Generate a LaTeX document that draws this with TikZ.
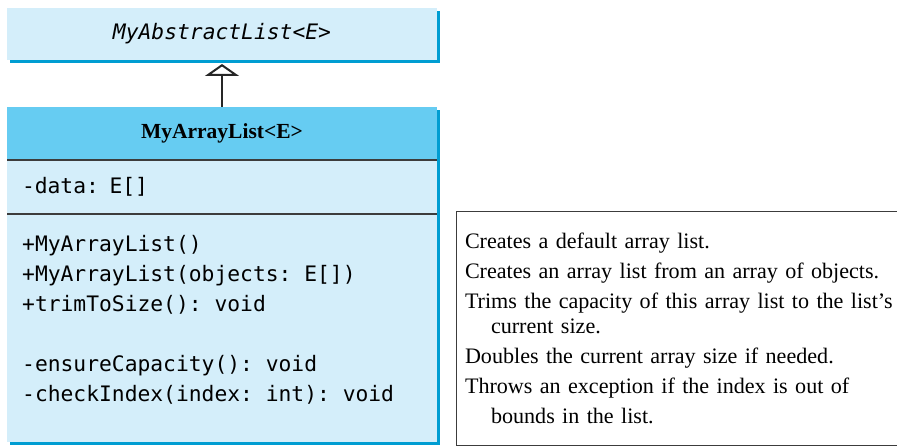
\documentclass[tikz,border=0pt]{standalone}
\usepackage{fontspec}
\setmainfont{Liberation Serif}
\setmonofont{DejaVu Sans Mono}
\usetikzlibrary{positioning,arrows.meta,shadows}
\definecolor{umlfill}{HTML}{D4EEFA}
\definecolor{umlhead}{HTML}{66CCF2}
\definecolor{umlshade}{HTML}{009DD2}
\definecolor{rulegray}{HTML}{3C3C3C}
\newcommand{\umlmono}{\fontsize{21.3}{30}\selectfont\ttfamily}

\begin{document}
\begin{tikzpicture}[x=1pt,y=-1pt,
  umlbox/.style={fill=umlfill,outer sep=0pt,inner xsep=15pt,text width=400pt,align=left,font=\umlmono,
    general shadow={fill=umlshade,shadow xshift=3pt,shadow yshift=-3pt}},
  desc/.style={draw=rulegray,line width=1pt,outer sep=0pt,inner xsep=9pt,text width=450pt,minimum height=233pt,
    align=left,font=\fontsize{22.1}{30}\selectfont},
  sep/.style={rulegray,line width=1.4pt},
  inherit/.style={-{Triangle[open,length=12pt,width=34pt]},line width=2pt,black!85}]
\useasboundingbox (0,0) rectangle (897,446);
% parent class
\node[umlbox,minimum height=52pt,align=center,font=\umlmono\itshape] (abs) at (222,34) {MyAbstractList<E>};
% MyArrayList: name, data, operations
\node[umlbox,fill=umlhead,minimum height=53pt,align=center,font=\fontsize{21.5}{26}\selectfont\bfseries] (arr) at (222,133.5) {MyArrayList<E>};
\node[umlbox,minimum height=54pt,below=0pt of arr] (data) {-data: E[]};
\node[umlbox,minimum height=228pt,below=0pt of data] (ops) {};
\node[anchor=north west,inner sep=0pt,align=left,font=\umlmono] (opsl) at ([xshift=15pt,yshift=-21.5pt]ops.north west)
  {+MyArrayList()\\+MyArrayList(objects: E[])\\+trimToSize(): void\\[30pt]-ensureCapacity(): void\\-checkIndex(index: int): void};
\draw[sep] (arr.south west) -- (arr.south east);
\draw[sep] (data.south west) -- (data.south east);
\draw[inherit,shorten >=4pt] (arr.north) -- (abs.south);
% descriptions (box runs past the right edge)
\node[desc,anchor=north west] (notes) at ([xshift=19pt,yshift=2pt]ops.north east)
  {Creates a default array list.\\
   Creates an array list from an array of objects.\\
   Trims the capacity of this array list to the list’s\\[-5pt]
   \hspace*{26pt}current size.\\
   Doubles the current array size if needed.\\
   Throws an exception if the index is out of\\
   \hspace*{26pt}bounds in the list.};
\end{tikzpicture}
\end{document}
